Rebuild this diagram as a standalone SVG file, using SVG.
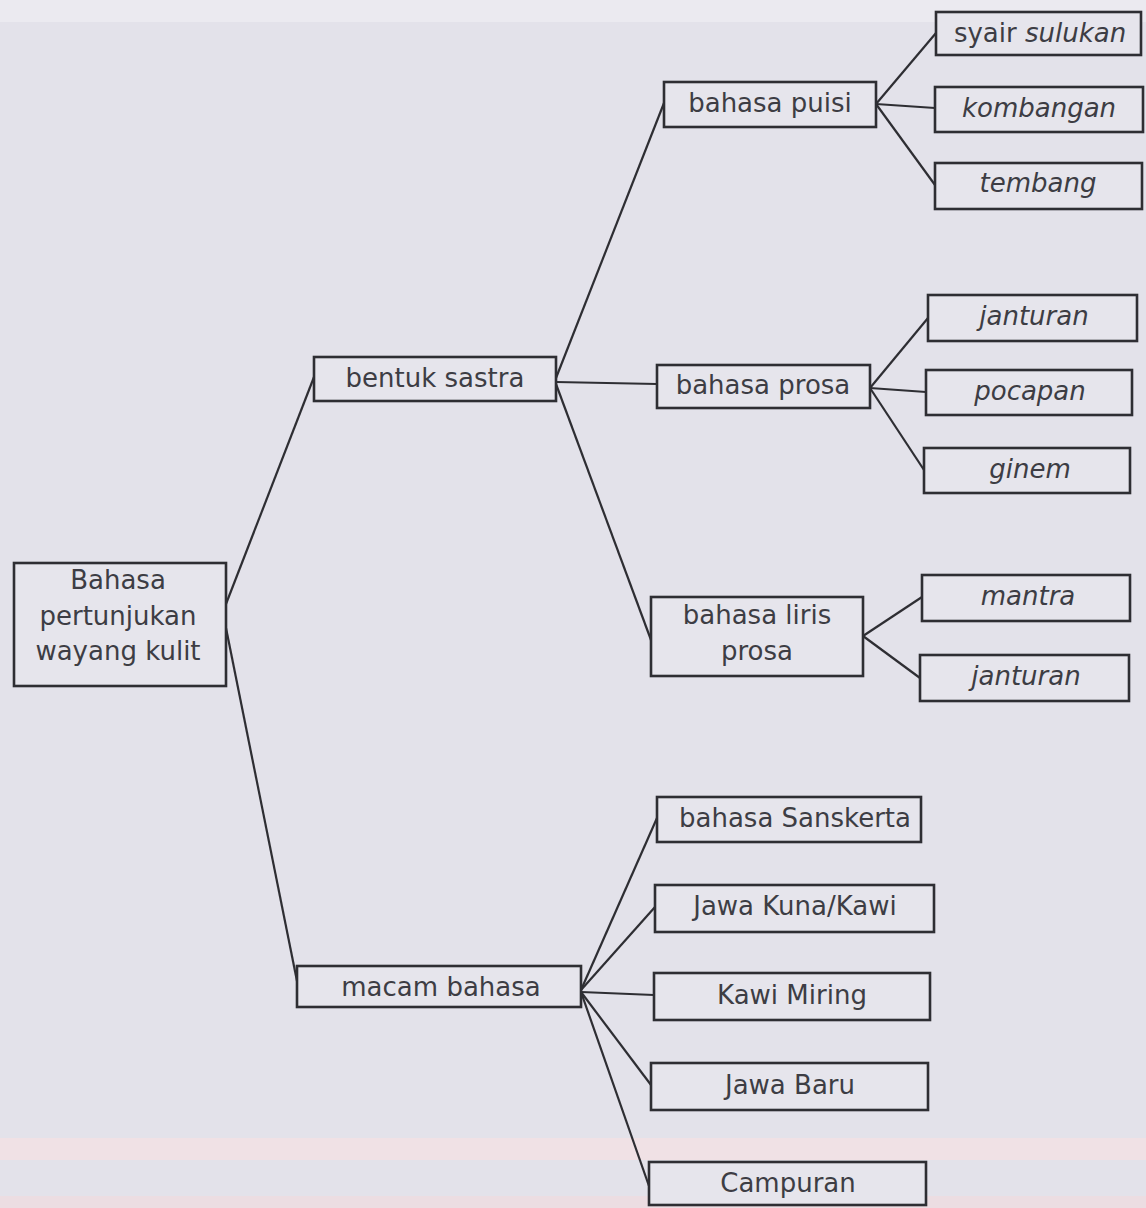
<svg xmlns="http://www.w3.org/2000/svg" width="1146" height="1208" viewBox="0 0 1146 1208">
<style>
.box{fill:#e6e5ec;stroke:#2e2e33;stroke-width:2.6}
.t{font-family:"DejaVu Sans","Verdana",sans-serif;font-size:26px;fill:#3d3d44;text-anchor:middle}
.i{font-style:italic}
.c{stroke:#2e2e33;stroke-width:2.2;fill:none}
</style>
<rect x="0" y="0" width="1146" height="1208" fill="#e3e2ea"/>
<rect x="0" y="0" width="1146" height="22" fill="#ebeaf0"/>
<rect x="0" y="1138" width="1146" height="22" fill="#f0e1e5"/>
<rect x="0" y="1196" width="1146" height="12" fill="#ecdde2"/>
<g id="connectors">
<line class="c" x1="226" y1="604" x2="314" y2="377"/>
<line class="c" x1="226" y1="628" x2="298" y2="986"/>
<line class="c" x1="556" y1="378" x2="664" y2="103"/>
<line class="c" x1="556" y1="382" x2="657" y2="384"/>
<line class="c" x1="556" y1="384" x2="651" y2="640"/>
<line class="c" x1="876" y1="104" x2="936" y2="33"/>
<line class="c" x1="876" y1="104" x2="935" y2="108"/>
<line class="c" x1="876" y1="104" x2="935" y2="185"/>
<line class="c" x1="870" y1="388" x2="928" y2="318"/>
<line class="c" x1="870" y1="388" x2="926" y2="392"/>
<line class="c" x1="870" y1="388" x2="924" y2="470"/>
<line class="c" x1="863" y1="636" x2="922" y2="597"/>
<line class="c" x1="863" y1="636" x2="920" y2="678"/>
<line class="c" x1="581" y1="990" x2="657" y2="818"/>
<line class="c" x1="581" y1="990" x2="655" y2="907"/>
<line class="c" x1="581" y1="992" x2="654" y2="995"/>
<line class="c" x1="581" y1="992" x2="651" y2="1085"/>
<line class="c" x1="581" y1="992" x2="649" y2="1186"/>
</g>
<g id="root"><rect class="box" x="14" y="563" width="212" height="123"/>
<text class="t" x="118" y="589">Bahasa</text><text class="t" x="118" y="625">pertunjukan</text><text class="t" x="118" y="660">wayang kulit</text></g>
<g id="bentuk-sastra"><rect class="box" x="314" y="357" width="242" height="44"/><text class="t" x="435" y="387">bentuk sastra</text></g>
<g id="macam-bahasa"><rect class="box" x="297" y="966" width="284" height="41"/><text class="t" x="441" y="996">macam bahasa</text></g>
<g id="bahasa-puisi"><rect class="box" x="664" y="82" width="212" height="45"/><text class="t" x="770" y="112">bahasa puisi</text></g>
<g id="bahasa-prosa"><rect class="box" x="657" y="365" width="213" height="43"/><text class="t" x="763" y="394">bahasa prosa</text></g>
<g id="bahasa-liris-prosa"><rect class="box" x="651" y="597" width="212" height="79"/><text class="t" x="757" y="624">bahasa liris</text><text class="t" x="757" y="660">prosa</text></g>
<g id="syair-sulukan"><rect class="box" x="936" y="12" width="205" height="43"/><text class="t" x="1040" y="42">syair <tspan class="i">sulukan</tspan></text></g>
<g id="kombangan"><rect class="box" x="935" y="87" width="208" height="45"/><text class="t i" x="1039" y="117">kombangan</text></g>
<g id="tembang"><rect class="box" x="935" y="163" width="207" height="46"/><text class="t i" x="1038" y="192">tembang</text></g>
<g id="janturan-1"><rect class="box" x="928" y="295" width="209" height="46"/><text class="t i" x="1034" y="325">janturan</text></g>
<g id="pocapan"><rect class="box" x="926" y="370" width="206" height="45"/><text class="t i" x="1030" y="400">pocapan</text></g>
<g id="ginem"><rect class="box" x="924" y="448" width="206" height="45"/><text class="t i" x="1030" y="478">ginem</text></g>
<g id="mantra"><rect class="box" x="922" y="575" width="208" height="46"/><text class="t i" x="1028" y="605">mantra</text></g>
<g id="janturan-2"><rect class="box" x="920" y="655" width="209" height="46"/><text class="t i" x="1026" y="685">janturan</text></g>
<g id="sanskerta"><rect class="box" x="657" y="797" width="264" height="45"/><text class="t" x="795" y="827">bahasa Sanskerta</text></g>
<g id="jawa-kuna"><rect class="box" x="655" y="885" width="279" height="47"/><text class="t" x="795" y="915">Jawa Kuna/Kawi</text></g>
<g id="kawi-miring"><rect class="box" x="654" y="973" width="276" height="47"/><text class="t" x="792" y="1004">Kawi Miring</text></g>
<g id="jawa-baru"><rect class="box" x="651" y="1063" width="277" height="47"/><text class="t" x="790" y="1094">Jawa Baru</text></g>
<g id="campuran"><rect class="box" x="649" y="1162" width="277" height="43"/><text class="t" x="788" y="1192">Campuran</text></g>
</svg>
